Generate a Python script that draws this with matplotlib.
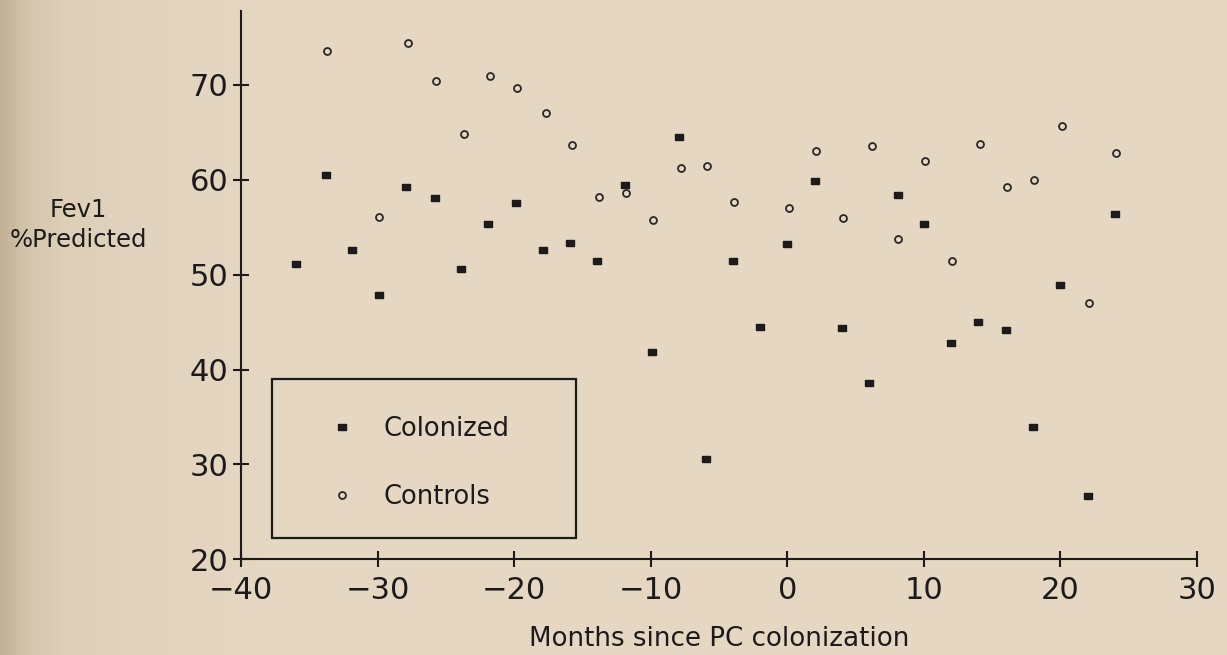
import numpy as np
import matplotlib
matplotlib.use("Agg")
import matplotlib.pyplot as plt
from matplotlib.patches import Rectangle

# FEV1 (% predicted) against months since PC colonization
months_colonized = [-36.0, -33.8, -31.9, -29.9, -27.9, -25.8, -23.9, -21.9, -19.9, -17.9,
                    -15.9, -13.9, -11.9, -9.9, -7.9, -5.95, -4.0, -2.0, 0.0, 2.0,
                    4.0, 6.0, 8.1, 10.0, 12.0, 14.0, 16.0, 18.0, 20.0, 22.0, 24.0]
fev1_colonized = [51.1, 60.5, 52.6, 47.9, 59.2, 58.1, 50.6, 55.3, 57.6, 52.6,
                  53.3, 51.4, 59.5, 41.9, 64.5, 30.6, 51.4, 44.5, 53.2, 59.9,
                  44.4, 38.6, 58.4, 55.3, 42.8, 45.0, 44.2, 33.9, 48.9, 26.7, 56.4]

months_controls = [-33.7, -29.9, -27.75, -25.7, -23.7, -21.75, -19.8, -17.7, -15.8, -13.8,
                   -11.8, -9.8, -7.8, -5.9, -3.9, 0.1, 2.1, 4.1, 6.2, 8.1,
                   10.1, 12.05, 14.1, 16.1, 18.1, 20.1, 22.1, 24.1]
fev1_controls = [73.6, 56.1, 74.4, 70.4, 64.8, 71.0, 69.7, 67.1, 63.7, 58.2,
                 58.6, 55.8, 61.3, 61.5, 57.7, 57.0, 63.0, 56.0, 63.6, 53.75,
                 62.0, 51.4, 63.8, 59.2, 60.0, 65.7, 47.0, 62.8]

x_ticks = [-40, -30, -20, -10, 0, 10, 20, 30]
y_ticks = [20, 30, 40, 50, 60, 70]

plt.rcParams["font.family"] = ["DejaVu Sans"]
W, H = 1227, 655
fig = plt.figure(figsize=(W / 100, H / 100), dpi=100)

# paper background, darker toward the left edge
bg = fig.add_axes([0, 0, 1, 1], zorder=-10)
bg.set_axis_off()
xs = np.arange(W)
stops_x = [0, 10, 28, 60, 140, 260, W]
stops_c = np.array([[192, 177, 150], [200, 185, 158], [212, 198, 173], [220, 206, 183],
                    [225, 211, 189], [229, 215, 193], [229, 215, 194]]) / 255.0
grad = np.stack([np.interp(xs, stops_x, stops_c[:, k]) for k in range(3)], axis=-1)
bg.imshow(grad[None, :, :], aspect="auto", extent=[0, 1, 0, 1])
bg.set_xlim(0, 1)
bg.set_ylim(0, 1)

ax_l, ax_r, ax_b, ax_t = 241, 1197, 559.3, 11
ax = fig.add_axes([ax_l / W, 1 - ax_b / H, (ax_r - ax_l) / W, (ax_b - ax_t) / H])
ax.patch.set_alpha(0)

ink = "#1c1a1a"
rect_marker = [(-1, -0.62), (1, -0.62), (1, 0.62), (-1, 0.62), (-1, -0.62)]
h1, = ax.plot(months_colonized, fev1_colonized, linestyle="none", marker=rect_marker,
              markersize=6.3, color=ink, label="Colonized")
h2, = ax.plot(months_controls, fev1_controls, linestyle="none", marker="o",
              markersize=5.0, markerfacecolor="none", markeredgecolor="#2a2727",
              markeredgewidth=1.3, label="Controls")

ax.set_xlim(-40, 30)
ax.set_ylim(20, 77.8)
ax.set_xticks(x_ticks)
ax.set_yticks(y_ticks)
for s in ("top", "right"):
    ax.spines[s].set_visible(False)
for s in ("left", "bottom"):
    ax.spines[s].set_linewidth(1.5)
    ax.spines[s].set_color(ink)
ax.tick_params(axis="both", direction="inout", length=12, width=1.5, color=ink,
               labelsize=22, labelcolor=ink)
ax.tick_params(axis="x", pad=6)
ax.tick_params(axis="y", pad=3)

ax.set_ylabel("Fev1\n%Predicted", rotation=0, fontsize=17.5, color=ink,
              ha="center", va="center", linespacing=1.3)
ax.yaxis.set_label_coords((78 - ax_l) / (ax_r - ax_l), (ax_b - 225) / (ax_b - ax_t))

fig.text(719 / W, 1 - 646 / H, "Months since PC colonization", ha="center",
         va="baseline", fontsize=18.8, color=ink)

# legend box with its entries
fig.patches.append(Rectangle((272 / W, 1 - 538.3 / H), (575.7 - 272) / W, (538.3 - 379) / H,
                             transform=fig.transFigure, fill=False, edgecolor=ink,
                             linewidth=1.6))
fs_leg = 18.5
fs_px = fs_leg * 100 / 72
ax.legend(handles=[h1, h2], loc="center left", frameon=False, fontsize=fs_leg,
          borderpad=0, handlelength=1.0, handletextpad=(384 - 341.7 - fs_px / 2) / fs_px,
          labelspacing=1.67, labelcolor=ink,
          bbox_to_anchor=((341.7 - fs_px / 2 - 13) / W, 1 - 463 / H),
          bbox_transform=fig.transFigure)

fig.savefig("out.png", dpi=100)
